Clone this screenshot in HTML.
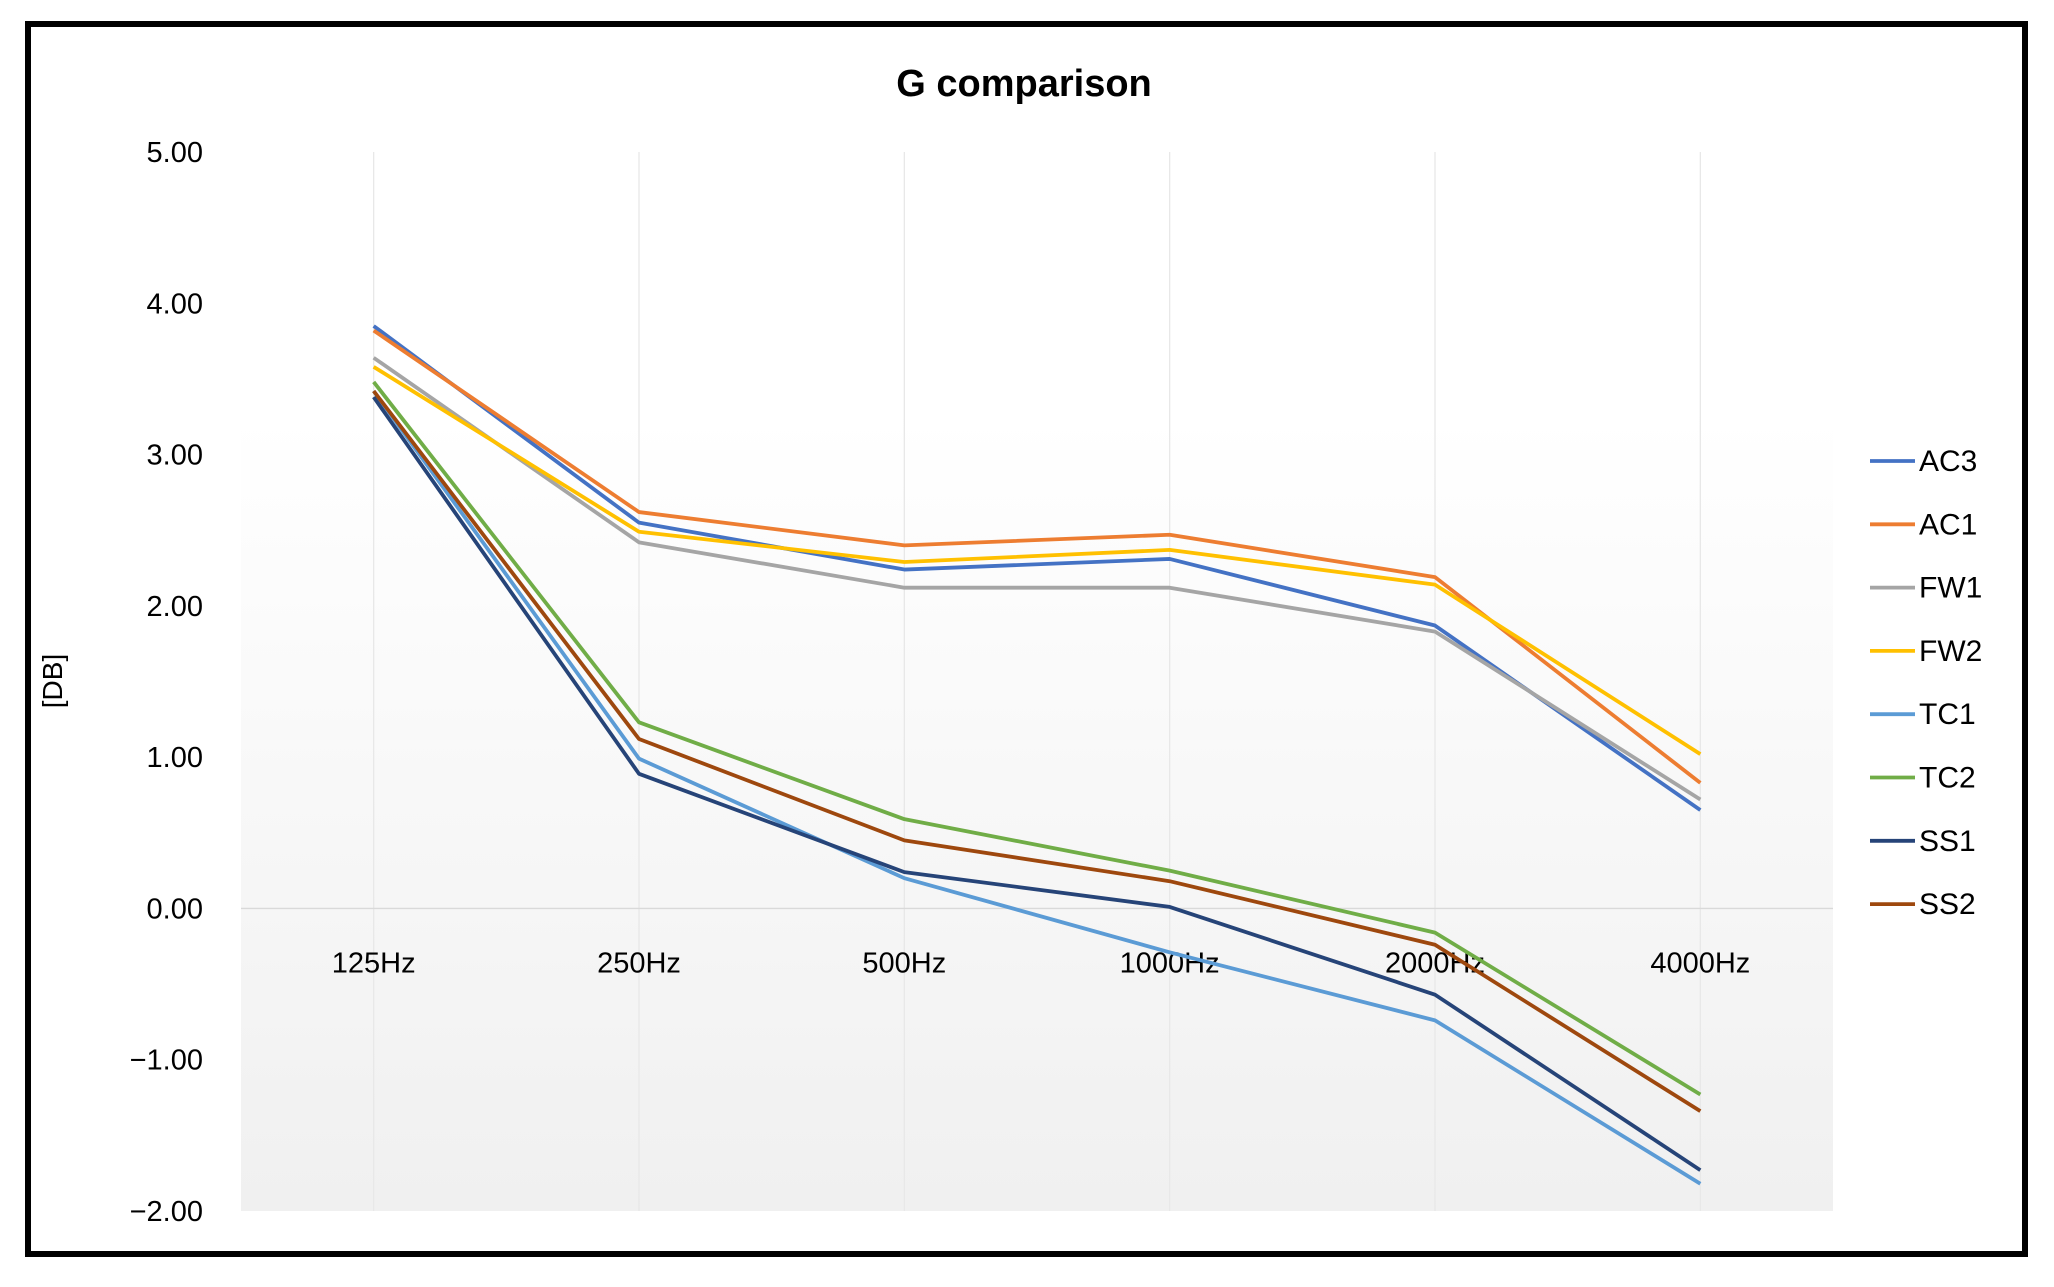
<!DOCTYPE html>
<html><head><meta charset="utf-8"><style>
html,body{margin:0;padding:0;background:#fff;}
svg{display:block;font-family:"Liberation Sans",sans-serif;}
</style></head><body>
<svg id="chart" width="2054" height="1287" viewBox="0 0 2054 1287">
<defs><linearGradient id="bg" x1="0" y1="0" x2="0" y2="1">
<stop offset="0" stop-color="#ffffff"/><stop offset="0.25" stop-color="#ffffff"/><stop offset="1" stop-color="#f0f0f0"/></linearGradient></defs>
<rect x="28" y="24" width="1997" height="1230" fill="#fff" stroke="#000" stroke-width="6"/>
<rect x="241" y="152" width="1592" height="1059" fill="url(#bg)"/>
<text x="1024" y="96" text-anchor="middle" font-size="38" font-weight="bold">G comparison</text>
<text transform="translate(62,681) rotate(-90)" text-anchor="middle" font-size="28">[DB]</text>
<g id="grid"></g><g id="axes"></g><g id="series"></g><g id="legend"></g>
</svg>
<script>
const categories=["125Hz","250Hz","500Hz","1000Hz","2000Hz","4000Hz"];
const yTicks=[5,4,3,2,1,0,-1,-2];
const yTickLabels=["5.00","4.00","3.00","2.00","1.00","0.00","\u22121.00","\u22122.00"];
const seriesNames=["AC3","AC1","FW1","FW2","TC1","TC2","SS1","SS2"];
const seriesColors=["#4472C4","#ED7D31","#A5A5A5","#FFC000","#5B9BD5","#70AD47","#264478","#9E480E"];
const ac3=[3.85,2.55,2.24,2.31,1.87,0.65];
const ac1=[3.82,2.62,2.40,2.47,2.19,0.83];
const fw1=[3.64,2.42,2.12,2.12,1.83,0.72];
const fw2=[3.58,2.49,2.29,2.37,2.14,1.02];
const tc1=[3.42,0.99,0.20,-0.29,-0.74,-1.82];
const tc2=[3.48,1.23,0.59,0.25,-0.16,-1.23];
const ss1=[3.38,0.89,0.24,0.01,-0.57,-1.73];
const ss2=[3.42,1.12,0.45,0.18,-0.24,-1.34];
const seriesValues=[ac3,ac1,fw1,fw2,tc1,tc2,ss1,ss2];

const NS="http://www.w3.org/2000/svg";
const X0=241,X1=1833,Y0=152,Y1=1211,YMAX=5,YMIN=-2;
const xs=i=>X0+(X1-X0)/categories.length*(i+0.5);
const ys=v=>Y0+(YMAX-v)/(YMAX-YMIN)*(Y1-Y0);
function mk(tag,attrs,parent){const e=document.createElementNS(NS,tag);for(const k in attrs)e.setAttribute(k,attrs[k]);parent.appendChild(e);return e;}
const grid=document.getElementById('grid'),axes=document.getElementById('axes'),ser=document.getElementById('series'),leg=document.getElementById('legend');
categories.forEach((c,i)=>{
  const l=mk('line',{x1:xs(i),x2:xs(i),y1:ys(YMAX),y2:ys(YMIN),stroke:"#e8e8e8","stroke-width":1.3},grid);
  
  
  const t=mk('text',{x:xs(i),y:ys(0)+64,"text-anchor":"middle","font-size":29},axes);
  t.textContent=c;
  
  
});
const zl=mk('line',{x1:X0,x2:X1,y1:ys(0),y2:ys(0),stroke:"#d9d9d9","stroke-width":1.3},grid);


yTicks.forEach((v,i)=>{
  const t=mk('text',{x:203,y:ys(v)+10,"text-anchor":"end","font-size":29},axes);
  t.textContent=yTickLabels[i];
  
  
});
seriesValues.forEach((vals,s)=>{
  const p=mk('polyline',{points:vals.map((v,i)=>xs(i)+","+ys(v)).join(" "),fill:"none",stroke:seriesColors[s],"stroke-width":3.8,"stroke-linejoin":"round"},ser);
  
  
  const g=mk('g',{},leg);
  
  
  const y=461+63.3*s;
  mk('line',{x1:1870,x2:1915,y1:y,y2:y,stroke:seriesColors[s],"stroke-width":3.8},g);
  const t=mk('text',{x:1919,y:y+10,"font-size":30},g);
  t.textContent=seriesNames[s];
});
</script>
</body></html>
